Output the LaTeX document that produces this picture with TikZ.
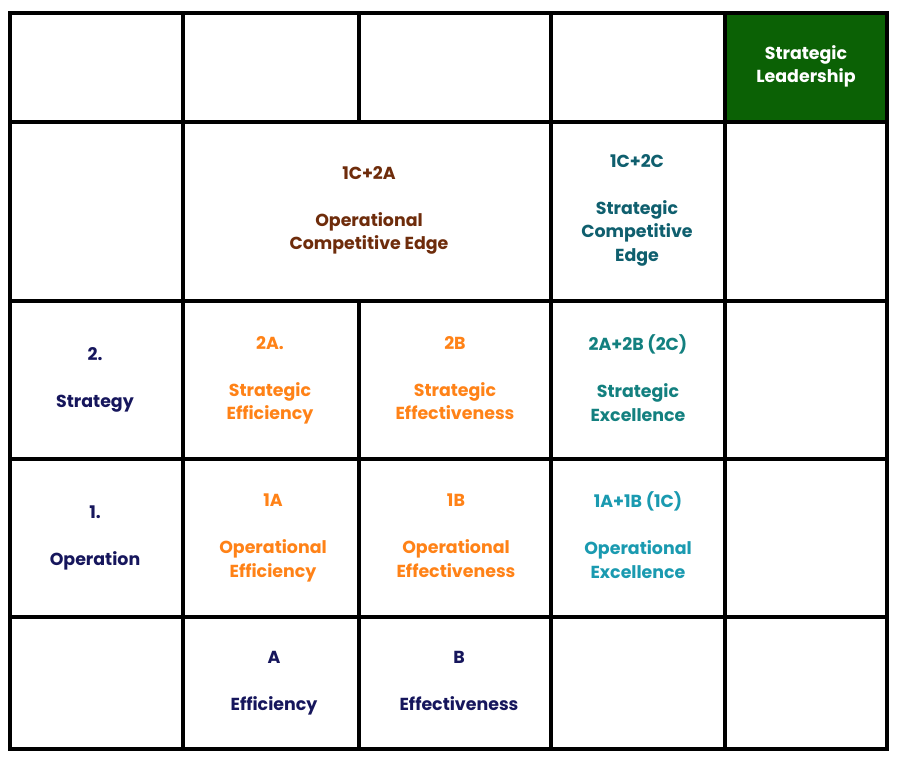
\documentclass[tikz,border=0pt]{standalone}
\usepackage{fontspec}
\setmainfont{Poppins}[UprightFont=* Bold]
\definecolor{navy}{HTML}{16165C}
\definecolor{orng}{HTML}{FF8217}
\definecolor{brwn}{HTML}{6E2C0B}
\definecolor{tealA}{HTML}{0F5F6E}
\definecolor{tealB}{HTML}{13807F}
\definecolor{tealC}{HTML}{1A9AB0}
\definecolor{lgreen}{HTML}{0B6105}
\begin{document}
\begin{tikzpicture}[x=1pt,y=-1pt,
  cell/.style={draw=black, line width=4.5pt, rectangle, inner sep=0pt, outer sep=0pt},
  lbl/.style={align=center, inner sep=0pt, text depth=0pt, font=\fontsize{17.4}{23.5}\selectfont},
  navytxt/.style={lbl, text=navy},
  orngtxt/.style={lbl, text=orng}]
\useasboundingbox (0,0) rectangle (900,764);
% columns: 10,183,359,551,725,887 ; rows: 13,122,301,459,617,749
% row 0
\node[cell, minimum width=173pt, minimum height=109pt] (r0c0) at (96.5,67.5) {};
\node[cell, minimum width=176pt, minimum height=109pt] (r0c1) at (271,67.5) {};
\node[cell, minimum width=192pt, minimum height=109pt] (r0c2) at (455,67.5) {};
\node[cell, minimum width=174pt, minimum height=109pt] (r0c3) at (638,67.5) {};
\node[cell, fill=lgreen, minimum width=162pt, minimum height=109pt] (r0c4) at (806,67.5) {};
\node[lbl, text=white] (t04) at (806,64) {Strategic\\Leadership};
% row 1
\node[cell, minimum width=173pt, minimum height=179pt] (r1c0) at (96.5,211.5) {};
\node[cell, minimum width=368pt, minimum height=179pt] (r1c12) at (367,211.5) {};
\node[lbl, text=brwn] (t112) at (369,208) {1C+2A\\[23.5pt]Operational\\Competitive Edge};
\node[cell, minimum width=174pt, minimum height=179pt] (r1c3) at (638,211.5) {};
\node[lbl, text=tealA] (t13) at (637,208) {1C+2C\\[23.5pt]Strategic\\Competitive\\Edge};
\node[cell, minimum width=162pt, minimum height=179pt] (r1c4) at (806,211.5) {};
% row 2
\node[cell, minimum width=173pt, minimum height=158pt] (r2c0) at (96.5,380) {};
\node[navytxt] (t20) at (95,378) {2.\\[23.5pt]Strategy};
\node[cell, minimum width=176pt, minimum height=158pt] (r2c1) at (271,380) {};
\node[orngtxt] (t21) at (270,378) {2A.\\[23.5pt]Strategic\\Efficiency};
\node[cell, minimum width=192pt, minimum height=158pt] (r2c2) at (455,380) {};
\node[orngtxt] (t22) at (455,378) {2B\\[23.5pt]Strategic\\Effectiveness};
\node[cell, minimum width=174pt, minimum height=158pt] (r2c3) at (638,380) {};
\node[lbl, text=tealB] (t23) at (638,378) {2A+2B (2C)\\[23.5pt]Strategic\\Excellence};
\node[cell, minimum width=162pt, minimum height=158pt] (r2c4) at (806,380) {};
% row 3
\node[cell, minimum width=173pt, minimum height=158pt] (r3c0) at (96.5,538) {};
\node[navytxt] (t30) at (95,535.5) {1.\\[23.5pt]Operation};
\node[cell, minimum width=176pt, minimum height=158pt] (r3c1) at (271,538) {};
\node[orngtxt] (t31) at (273,535.5) {1A\\[23.5pt]Operational\\Efficiency};
\node[cell, minimum width=192pt, minimum height=158pt] (r3c2) at (455,538) {};
\node[orngtxt] (t32) at (456,535.5) {1B\\[23.5pt]Operational\\Effectiveness};
\node[cell, minimum width=174pt, minimum height=158pt] (r3c3) at (638,538) {};
\node[lbl, text=tealC] (t33) at (638,535) {1A+1B (1C)\\[23.5pt]Operational\\Excellence};
\node[cell, minimum width=162pt, minimum height=158pt] (r3c4) at (806,538) {};
% row 4
\node[cell, minimum width=173pt, minimum height=132pt] (r4c0) at (96.5,683) {};
\node[cell, minimum width=176pt, minimum height=132pt] (r4c1) at (271,683) {};
\node[navytxt] (t41) at (274,681) {A\\[23.5pt]Efficiency};
\node[cell, minimum width=192pt, minimum height=132pt] (r4c2) at (455,683) {};
\node[navytxt] (t42) at (459,681) {B\\[23.5pt]Effectiveness};
\node[cell, minimum width=174pt, minimum height=132pt] (r4c3) at (638,683) {};
\node[cell, minimum width=162pt, minimum height=132pt] (r4c4) at (806,683) {};
\end{tikzpicture}
\end{document}
